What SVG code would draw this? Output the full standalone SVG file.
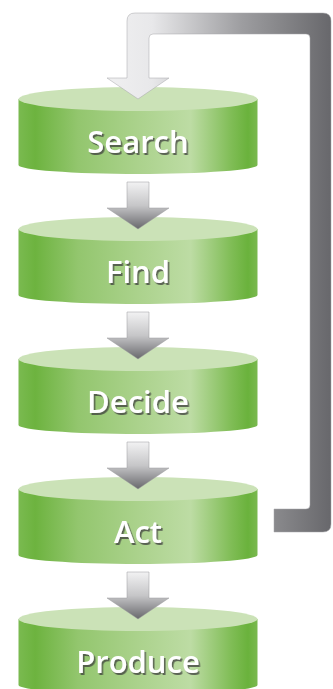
<svg xmlns="http://www.w3.org/2000/svg" width="333" height="689" viewBox="0 0 333 689">
<defs>
<linearGradient id="body" gradientUnits="userSpaceOnUse" x1="18.5" y1="0" x2="257.5" y2="0">
<stop offset="0" stop-color="#7aba50"/>
<stop offset="0.07" stop-color="#6db33f"/>
<stop offset="0.25" stop-color="#93c66e"/>
<stop offset="0.5" stop-color="#abd28c"/>
<stop offset="0.72" stop-color="#bddca4"/>
<stop offset="0.89" stop-color="#80bd56"/>
<stop offset="0.96" stop-color="#6ab23c"/>
<stop offset="1" stop-color="#7ab94f"/>
</linearGradient>
<linearGradient id="down" x1="0" y1="0" x2="0" y2="1">
<stop offset="0" stop-color="#f2f2f3"/>
<stop offset="0.5" stop-color="#c6c6c8"/>
<stop offset="1" stop-color="#68686c"/>
</linearGradient>
<linearGradient id="loop" gradientUnits="userSpaceOnUse" x1="107" y1="0" x2="332" y2="0">
<stop offset="0" stop-color="#f0f0f1"/>
<stop offset="0.2" stop-color="#e8e8ea"/>
<stop offset="0.6" stop-color="#9d9da0"/>
<stop offset="0.78" stop-color="#858588"/>
<stop offset="1" stop-color="#67676b"/>
</linearGradient>
<filter id="shadow" x="-20%" y="-20%" width="140%" height="160%">
<feDropShadow dx="1.6" dy="2" stdDeviation="0.6" flood-color="#3d3d3d" flood-opacity="0.75"/>
</filter>
</defs>
<style>
.body{fill:url(#body);}
.top{fill:#cbe2b7;}
.lbl{font-family:"Open Sans","Liberation Sans",sans-serif;font-weight:600;font-size:31px;fill:#ffffff;text-anchor:middle;filter:url(#shadow);}
.arrow{fill:url(#down);stroke:#9a9a9d;stroke-width:0.5;}
.loop{fill:url(#loop);stroke:#a5a5a8;stroke-width:0.5;}
</style>
<g id="search">
<path class="body" d="M18.5,99 V165 A119.5,9 0 0 0 257.5,165 V99 Z"/>
<ellipse class="top" cx="138" cy="99" rx="119.5" ry="12"/>
<text class="lbl" x="138" y="153">Search</text>
</g>
<g id="find">
<path class="body" d="M18.5,229 V295 A119.5,9 0 0 0 257.5,295 V229 Z"/>
<ellipse class="top" cx="138" cy="229" rx="119.5" ry="12"/>
<text class="lbl" x="138" y="283">Find</text>
</g>
<g id="decide">
<path class="body" d="M18.5,359 V425 A119.5,9 0 0 0 257.5,425 V359 Z"/>
<ellipse class="top" cx="138" cy="359" rx="119.5" ry="12"/>
<text class="lbl" x="138" y="413">Decide</text>
</g>
<g id="act">
<path class="body" d="M18.5,489 V555 A119.5,9 0 0 0 257.5,555 V489 Z"/>
<ellipse class="top" cx="138" cy="489" rx="119.5" ry="12"/>
<text class="lbl" x="138" y="543">Act</text>
</g>
<g id="produce">
<path class="body" d="M18.5,619 V685 A119.5,9 0 0 0 257.5,685 V619 Z"/>
<ellipse class="top" cx="138" cy="619" rx="119.5" ry="12"/>
<text class="lbl" x="138" y="673">Produce</text>
</g>
<g id="connectors">
<path class="loop" d="M127,78 V21 Q127,13 135,13 H323 Q331,13 331,21 V524 Q331,532 323,532 H274 V509 H306 Q310,509 310,505 V38 Q310,34 306,34 H153 Q149,34 149,38 V78 H169 L138,99 L107,78 Z"/>
<path class="arrow" d="M127,182 H149 V208 H169 L138,229 L107,208 H127 Z"/>
<path class="arrow" d="M127,312 H149 V338 H169 L138,359 L107,338 H127 Z"/>
<path class="arrow" d="M127,442 H149 V468 H169 L138,489 L107,468 H127 Z"/>
<path class="arrow" d="M127,572 H149 V598 H169 L138,619 L107,598 H127 Z"/>
</g>
</svg>
